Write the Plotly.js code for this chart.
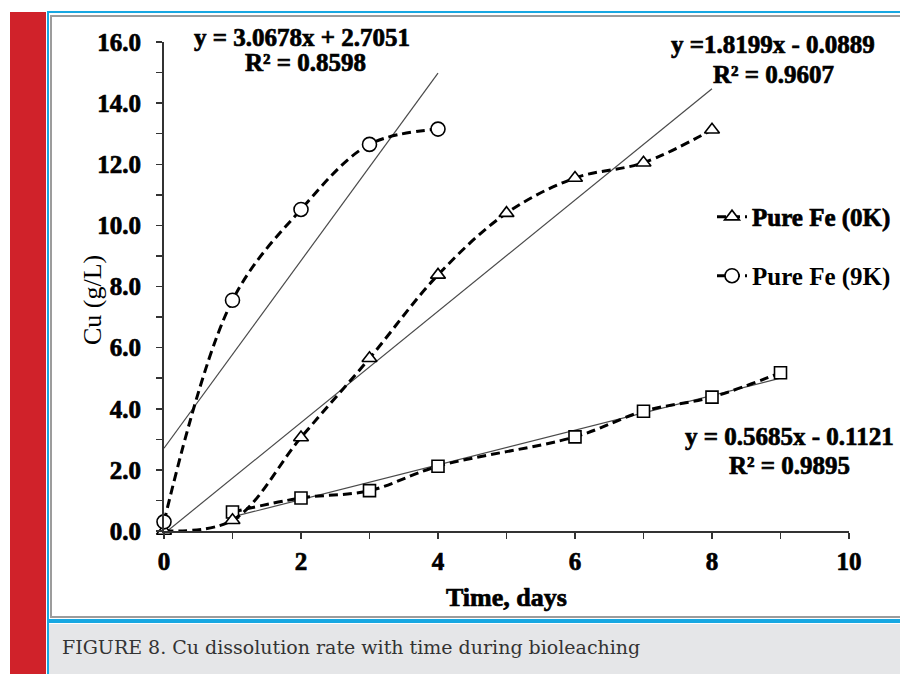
<!DOCTYPE html>
<html>
<head>
<meta charset="utf-8">
<script src="https://cdn.plot.ly/plotly-3.0.1.min.js"></script>
<style>
  html, body { margin:0; padding:0; background:#ffffff; }
  #page { position:relative; width:900px; height:674px; overflow:hidden; background:#ffffff; }
  .blk { position:absolute; }
  #chart { position:absolute; left:0; top:0; width:900px; height:674px; }
  #caption { position:absolute; left:62px; top:636px; font-family:"DejaVu Serif","Liberation Serif",serif; font-size:19px; color:#333333; white-space:nowrap; }
</style>
</head>
<body>
<div id="page">
  <div class="blk" style="left:10px;top:12px;width:36px;height:662px;background:#d0222a;"></div>
  <div class="blk" style="left:47px;top:11px;width:853px;height:2px;background:#18a8e2;"></div>
  <div class="blk" style="left:47px;top:11px;width:2px;height:663px;background:#18a8e2;"></div>
  <div class="blk" style="left:50px;top:15px;width:850px;height:2px;background:#9c9c9c;"></div>
  <div class="blk" style="left:50px;top:15px;width:2px;height:603px;background:#9c9c9c;"></div>
  <div class="blk" style="left:50px;top:616px;width:850px;height:2px;background:#9c9c9c;"></div>
  <div class="blk" style="left:49px;top:619px;width:851px;height:4px;background:#18a8e2;"></div>
  <div class="blk" style="left:49px;top:624px;width:851px;height:50px;background:#e5e6e8;"></div>
  <div id="caption">FIGURE 8. Cu dissolution rate with time during bioleaching</div>
  <div id="chart"></div>
</div>
<script>
// ---- data ----
const days9K = [0, 1, 2, 3, 4];
const cu9K   = [0.30, 7.55, 10.52, 12.65, 13.15];

const days0K = [0, 1, 2, 3, 4, 5, 6, 7, 8];
const cu0K   = [0.00, 0.35, 3.06, 5.65, 8.38, 10.40, 11.55, 12.05, 13.13];

const daysSq = [1, 2, 3, 4, 6, 7, 8, 9];
const cuSq   = [0.62, 1.08, 1.32, 2.12, 3.08, 3.92, 4.38, 5.18];

// trendline end points
const trend9KX = [0, 4];
const trend9KY = [2.71, 14.98];
const trend0KX = [0, 8];
const trend0KY = [-0.09, 14.47];
const trendSqX = [1, 9];
const trendSqY = [0.46, 5.00];

const seriesNames = ["Pure Fe (0K)", "Pure Fe (9K)"];
const eq9K = ["y = 3.0678x + 2.7051", "R² = 0.8598"];
const eq0K = ["y =1.8199x - 0.0889", "R² = 0.9607"];
const eqSq = ["y = 0.5685x - 0.1121", "R² = 0.9895"];

const yTickVals = [0,1,2,3,4,5,6,7,8,9,10,11,12,13,14,15,16];
const yTickText = ["0.0","","2.0","","4.0","","6.0","","8.0","","10.0","","12.0","","14.0","","16.0"];
const xTickVals = [0,1,2,3,4,5,6,7,8,9,10];
const xTickText = ["0","","2","","4","","6","","8","","10"];

const xTitle = "Time, days";
const yTitle = "Cu (g/L)";

// ---- styles ----
const SERIF = "Liberation Serif, Times New Roman, serif";
const dashed = {color:"#000", width:3, dash:"9px,5px", shape:"spline", smoothing:1};
const trendLine = {color:"#4a4a4a", width:1.2};
function mk(sym, size){ return {symbol:sym, size:size, color:"#ffffff", line:{color:"#000", width:1.6}}; }

const traces = [
  {x:trend9KX, y:trend9KY, mode:"lines", line:trendLine, showlegend:false, hoverinfo:"skip"},
  {x:trend0KX, y:trend0KY, mode:"lines", line:trendLine, showlegend:false, hoverinfo:"skip"},
  {x:trendSqX, y:trendSqY, mode:"lines", line:trendLine, showlegend:false, hoverinfo:"skip"},
  {x:daysSq, y:cuSq, mode:"lines+markers", line:dashed, marker:mk("square",12), cliponaxis:false, showlegend:false},
  {x:days0K, y:cu0K, mode:"lines+markers", line:dashed, marker:mk("triangle-up",13), cliponaxis:false, name:seriesNames[0], legend:"legend"},
  {x:days9K, y:cu9K, mode:"lines+markers", line:dashed, marker:mk("circle",14), cliponaxis:false, name:seriesNames[1], legend:"legend2"}
];

const W = 900, H = 674;
const L = 164, R = 849, T = 42.3, B = 530.7;
const px = v => (v - L) / (R - L);
const py = v => (B - v) / (B - T);

const boldFont = s => ({family:SERIF, size:s, color:"#000", weight:"bold"});
function eqAnn(txt, xp, yp){ return {text:txt, x:px(xp), y:py(yp), xref:"paper", yref:"paper", showarrow:false, font:boldFont(25), xanchor:"center", yanchor:"middle"}; }

const layout = {
  width:W, height:H,
  margin:{l:L, r:W-R, t:T, b:H-B, pad:0, autoexpand:false},
  paper_bgcolor:"rgba(0,0,0,0)",
  plot_bgcolor:"rgba(0,0,0,0)",
  showlegend:true,
  font:{family:SERIF, color:"#000"},
  xaxis:{range:[0,10], tickvals:xTickVals, ticktext:xTickText, ticks:"outside", ticklen:6, tickwidth:1.5, tickcolor:"#333",
         showline:true, linecolor:"#333", linewidth:2, showgrid:false, zeroline:false, fixedrange:true, automargin:false,
         tickfont:boldFont(25), ticklabelstandoff:1},
  yaxis:{range:[0,16], tickvals:yTickVals, ticktext:yTickText, ticks:"outside", ticklen:6, tickwidth:1.5, tickcolor:"#333",
         showline:true, linecolor:"#333", linewidth:2, showgrid:false, zeroline:false, fixedrange:true, automargin:false,
         tickfont:boldFont(25), ticklabelstandoff:10},
  legend:{x:px(712), y:py(217), xanchor:"left", yanchor:"middle", bgcolor:"rgba(0,0,0,0)", borderwidth:0,
          font:boldFont(25), itemwidth:30},
  legend2:{x:px(712), y:py(276), xanchor:"left", yanchor:"middle", bgcolor:"rgba(0,0,0,0)", borderwidth:0,
          font:boldFont(25), itemwidth:30},
  annotations:[
    eqAnn(eq9K[0], 302, 38), eqAnn(eq9K[1], 305, 63),
    eqAnn(eq0K[0], 773, 45), eqAnn(eq0K[1], 773, 75),
    eqAnn(eqSq[0], 789, 436), eqAnn(eqSq[1], 789, 465),
    {text:xTitle, xref:"paper", yref:"paper", x:0.5, y:py(597), showarrow:false, xanchor:"center", yanchor:"middle",
     font:boldFont(26)},
    {text:yTitle, xref:"paper", yref:"paper", x:px(92), y:py(300), showarrow:false, xanchor:"center", yanchor:"middle", textangle:-90,
     font:{family:SERIF, size:26, color:"#000"}}
  ]
};

Plotly.newPlot("chart", traces, layout, {displayModeBar:false, staticPlot:true}).then(function(){
  const sel = document.querySelectorAll("#chart .xtick text, #chart .ytick text, #chart .legendtext");
  sel.forEach(t => { t.style.stroke = "#000"; t.style.strokeWidth = "0.7px"; });
  document.querySelectorAll("#chart .annotation").forEach((g, i) => {
    if (i < 7) g.querySelectorAll("text").forEach(t => { t.style.stroke = "#000"; t.style.strokeWidth = "0.7px"; });
  });
});
</script>
</body>
</html>
